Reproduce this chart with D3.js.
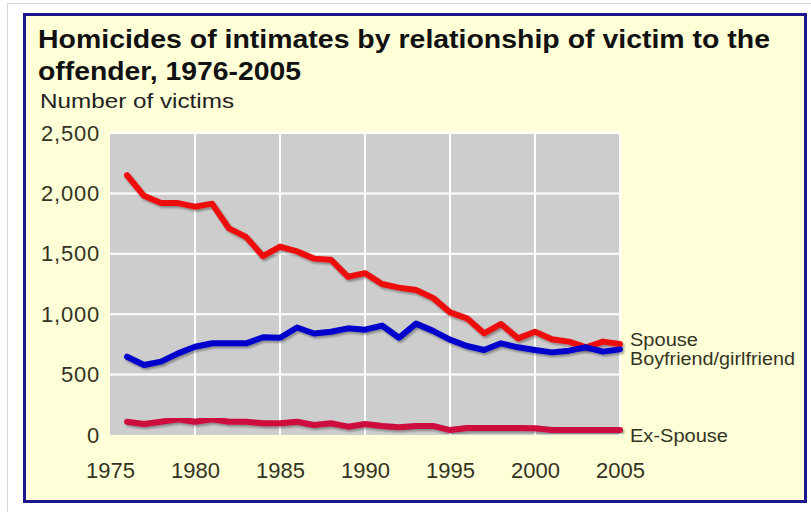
<!DOCTYPE html>
<html><head><meta charset="utf-8">
<script src="https://cdn.jsdelivr.net/npm/d3@7/dist/d3.min.js"></script>
<style>body{margin:0;background:#fff;}svg{display:block;}</style>
</head><body>
<svg id="chart" width="811" height="512"></svg>
<script>
const years = d3.range(1976, 2006);
const spouse = [2150,1980,1920,1920,1890,1915,1710,1640,1480,1560,1520,1460,1450,1310,1340,1250,1220,1200,1135,1015,966,842,919,800,855,792,773,726,773,753];
const boyfriend = [648,580,607,676,731,759,759,759,809,805,890,840,855,883,872,906,805,922,862,790,737,704,759,726,704,684,698,726,690,709];
const exSpouse = [110,91,110,130,110,130,110,110,97,97,110,83,97,69,91,75,64,75,75,41,58,58,58,58,56,41,41,41,41,41];
const yTicks = [0,500,1000,1500,2000,2500];
const xTicks = [1975,1980,1985,1990,1995,2000,2005];
const seriesNames = ["Spouse","Boyfriend/girlfriend","Ex-Spouse"];
const seriesColors = ["#ee1111","#0000cc","#cc0a3c"];
const FONT = "Liberation Sans, Arial, sans-serif";

const svg = d3.select("#chart");
// outer frame
svg.append("rect").attr("x",7.5).attr("y",3.5).attr("width",810).attr("height",520).attr("fill","#fff").attr("stroke","#d8d8d8");
svg.append("rect").attr("x",24.5).attr("y",14.5).attr("width",781).attr("height",487).attr("fill","#ffffd8").attr("stroke","#1a1a8c").attr("stroke-width",3);

const defs = svg.append("defs");
const f = defs.append("filter").attr("id","sh").attr("x","-10%").attr("y","-10%").attr("width","120%").attr("height","140%");
f.append("feDropShadow").attr("dx",1.5).attr("dy",2).attr("stdDeviation",1.2).attr("flood-color","#000").attr("flood-opacity",0.35);

const x = d3.scaleLinear().domain([1975,2005]).range([110,620]);
const y = d3.scaleLinear().domain([0,2500]).range([435,133]);

svg.append("rect").attr("x",x(1975)).attr("y",y(2500)).attr("width",x(2005)-x(1975)).attr("height",y(0)-y(2500)).attr("fill","#cdcdcd");

// grid
const g = svg.append("g");
g.selectAll(".hg").data(yTicks.filter(d=>d>0)).join("line")
  .attr("x1",x(1975)).attr("x2",x(2005)).attr("y1",d=>y(d)).attr("y2",d=>y(d))
  .attr("stroke","#fff").attr("stroke-width",2);
g.selectAll(".vg").data(xTicks.filter(d=>d>1975)).join("line")
  .attr("x1",d=>x(d)).attr("x2",d=>x(d)).attr("y1",y(2500)).attr("y2",y(0))
  .attr("stroke","#fff").attr("stroke-width",2);

// axes
const yAxis = d3.axisLeft(y).tickValues(yTicks).tickSize(0).tickPadding(10).tickFormat(d3.format(","));
const ya = svg.append("g").attr("transform",`translate(${x(1975)},0)`).call(yAxis);
ya.select(".domain").remove();
ya.selectAll("text").attr("font-family",FONT).attr("font-size",22).attr("letter-spacing",0.8).attr("fill","#333322");

const xAxis = d3.axisBottom(x).tickValues(xTicks).tickSize(0).tickPadding(27).tickFormat(d3.format("d"));
const xa = svg.append("g").attr("transform",`translate(0,${y(0)})`).call(xAxis);
xa.select(".domain").remove();
xa.selectAll("text").attr("font-family",FONT).attr("font-size",22).attr("fill","#333322");

// lines
const line = d3.line().x((d,i)=>x(years[i])).y(d=>y(d)).curve(d3.curveLinear);
const data = [spouse, boyfriend, exSpouse];
[exSpouse, spouse, boyfriend].forEach(s=>{
  const idx = data.indexOf(s);
  svg.append("path").datum(s).attr("d",line).attr("fill","none")
    .attr("stroke",seriesColors[idx]).attr("stroke-width",6)
    .attr("stroke-linejoin","round").attr("stroke-linecap","round")
    .attr("filter","url(#sh)");
});

// labels
const lab = svg.append("g").attr("font-family",FONT).attr("font-size",17.5).attr("fill","#333322");
lab.append("text").attr("x",630).attr("y",y(spouse[29])+2).attr("textLength",68).attr("lengthAdjust","spacingAndGlyphs").text(seriesNames[0]);
lab.append("text").attr("x",630).attr("y",y(boyfriend[29])+16).attr("textLength",165).attr("lengthAdjust","spacingAndGlyphs").text(seriesNames[1]);
lab.append("text").attr("x",630).attr("y",y(exSpouse[29])+12).attr("textLength",98).attr("lengthAdjust","spacingAndGlyphs").text(seriesNames[2]);

// titles
const t = svg.append("g").attr("font-family",FONT).attr("fill","#111");
t.append("text").attr("x",38).attr("y",48).attr("font-size",26).attr("font-weight","bold")
  .attr("textLength",732).attr("lengthAdjust","spacingAndGlyphs")
  .text("Homicides of intimates by relationship of victim to the");
t.append("text").attr("x",38).attr("y",80).attr("font-size",26).attr("font-weight","bold")
  .attr("textLength",263).attr("lengthAdjust","spacingAndGlyphs")
  .text("offender, 1976-2005");
t.append("text").attr("x",40).attr("y",108).attr("font-size",20).attr("fill","#222")
  .attr("textLength",194).attr("lengthAdjust","spacingAndGlyphs")
  .text("Number of victims");
</script>
</body></html>
